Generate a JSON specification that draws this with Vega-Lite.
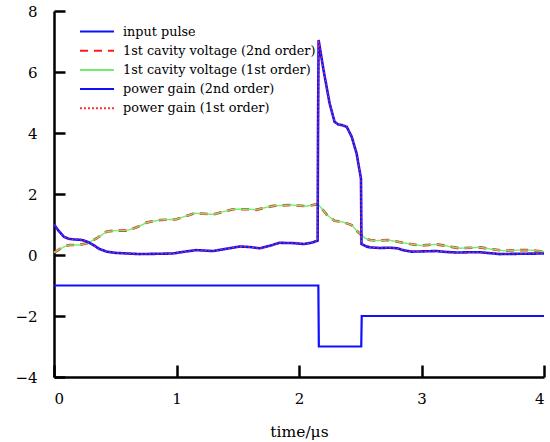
{
  "$schema": "https://vega.github.io/schema/vega-lite/v6.json",
  "width": 490,
  "height": 366,
  "autosize": "none",
  "padding": {"left": 54, "top": 11, "right": 6, "bottom": 65},
  "background": "white",
  "config": {
    "font": "DejaVu Serif",
    "view": {"stroke": null},
    "axis": {
      "grid": false,
      "labelFont": "DejaVu Serif",
      "labelFontSize": 15,
      "labelColor": "#000000",
      "titleFont": "DejaVu Serif",
      "titleFontSize": 15.5,
      "titleFontWeight": "normal",
      "titleColor": "#000000"
    },
    "legend": {
      "labelFont": "DejaVu Serif",
      "labelFontSize": 12.8,
      "labelColor": "#000000",
      "labelLimit": 400
    }
  },
  "resolve": {"axis": {"x": "independent", "y": "independent"}},
  "datasets": {
    "pulse": [
      {"t": 0, "v": -1}, {"t": 2.158, "v": -1}, {"t": 2.162, "v": -3},
      {"t": 2.508, "v": -3}, {"t": 2.512, "v": -2}, {"t": 4, "v": -2}
    ],
    "cavity": [
      {"t": 0, "v": 0.08}, {"t": 0.05, "v": 0.2}, {"t": 0.1, "v": 0.3}, {"t": 0.13, "v": 0.33},
      {"t": 0.21, "v": 0.33}, {"t": 0.28, "v": 0.4}, {"t": 0.35, "v": 0.55}, {"t": 0.43, "v": 0.77},
      {"t": 0.5, "v": 0.8}, {"t": 0.59, "v": 0.8}, {"t": 0.67, "v": 0.9}, {"t": 0.76, "v": 1.07},
      {"t": 0.87, "v": 1.15}, {"t": 1.0, "v": 1.17}, {"t": 1.07, "v": 1.27}, {"t": 1.15, "v": 1.37},
      {"t": 1.3, "v": 1.33}, {"t": 1.38, "v": 1.42}, {"t": 1.46, "v": 1.5}, {"t": 1.6, "v": 1.5},
      {"t": 1.65, "v": 1.48}, {"t": 1.72, "v": 1.55}, {"t": 1.79, "v": 1.61}, {"t": 1.93, "v": 1.64},
      {"t": 2.06, "v": 1.6}, {"t": 2.14, "v": 1.66}, {"t": 2.16, "v": 1.64}, {"t": 2.18, "v": 1.55},
      {"t": 2.23, "v": 1.31}, {"t": 2.29, "v": 1.12}, {"t": 2.36, "v": 1.08}, {"t": 2.43, "v": 0.98},
      {"t": 2.48, "v": 0.76}, {"t": 2.54, "v": 0.55}, {"t": 2.58, "v": 0.49}, {"t": 2.63, "v": 0.47},
      {"t": 2.73, "v": 0.49}, {"t": 2.85, "v": 0.4}, {"t": 2.99, "v": 0.31}, {"t": 3.12, "v": 0.35},
      {"t": 3.2, "v": 0.3}, {"t": 3.31, "v": 0.22}, {"t": 3.48, "v": 0.25}, {"t": 3.57, "v": 0.19},
      {"t": 3.67, "v": 0.14}, {"t": 3.78, "v": 0.16}, {"t": 3.89, "v": 0.16}, {"t": 4.0, "v": 0.11}
    ],
    "gain": [
      {"t": 0, "v": 1.0}, {"t": 0.04, "v": 0.78}, {"t": 0.08, "v": 0.6}, {"t": 0.12, "v": 0.53},
      {"t": 0.16, "v": 0.51}, {"t": 0.21, "v": 0.5}, {"t": 0.24, "v": 0.48}, {"t": 0.28, "v": 0.42},
      {"t": 0.32, "v": 0.33}, {"t": 0.37, "v": 0.2}, {"t": 0.43, "v": 0.11}, {"t": 0.5, "v": 0.07},
      {"t": 0.6, "v": 0.05}, {"t": 0.7, "v": 0.03}, {"t": 0.85, "v": 0.04}, {"t": 0.97, "v": 0.05},
      {"t": 1.05, "v": 0.1}, {"t": 1.16, "v": 0.16}, {"t": 1.3, "v": 0.13}, {"t": 1.4, "v": 0.2},
      {"t": 1.52, "v": 0.28}, {"t": 1.6, "v": 0.26}, {"t": 1.68, "v": 0.22}, {"t": 1.76, "v": 0.3},
      {"t": 1.84, "v": 0.4}, {"t": 1.95, "v": 0.39}, {"t": 2.04, "v": 0.36}, {"t": 2.1, "v": 0.4},
      {"t": 2.152, "v": 0.47}, {"t": 2.155, "v": 3.77}, {"t": 2.16, "v": 7.05}, {"t": 2.2, "v": 6.07},
      {"t": 2.25, "v": 4.97}, {"t": 2.29, "v": 4.37}, {"t": 2.32, "v": 4.28}, {"t": 2.35, "v": 4.26},
      {"t": 2.39, "v": 4.2}, {"t": 2.43, "v": 3.88}, {"t": 2.47, "v": 3.33}, {"t": 2.506, "v": 2.5},
      {"t": 2.51, "v": 0.36}, {"t": 2.55, "v": 0.28}, {"t": 2.58, "v": 0.25}, {"t": 2.66, "v": 0.23},
      {"t": 2.74, "v": 0.24}, {"t": 2.8, "v": 0.22}, {"t": 2.86, "v": 0.15}, {"t": 2.92, "v": 0.11},
      {"t": 3.02, "v": 0.12}, {"t": 3.12, "v": 0.13}, {"t": 3.2, "v": 0.1}, {"t": 3.29, "v": 0.08},
      {"t": 3.4, "v": 0.09}, {"t": 3.48, "v": 0.09}, {"t": 3.56, "v": 0.06}, {"t": 3.64, "v": 0.03},
      {"t": 3.8, "v": 0.04}, {"t": 4.0, "v": 0.05}
    ]
  },
  "layer": [
    {
      "data": {"name": "pulse"},
      "mark": {"type": "line", "opacity": 0},
      "encoding": {
        "x": {
          "field": "t", "type": "quantitative",
          "scale": {"domain": [0, 4], "nice": false, "zero": false},
          "axis": {"orient": "top", "offset": -366, "values": [0, 1, 2, 3, 4], "domain": false, "labels": false, "ticks": true, "tickSize": 12, "tickColor": "black", "tickWidth": 2.5, "tickOpacity": 1, "title": null}
        },
        "y": {
          "field": "v", "type": "quantitative",
          "scale": {"domain": [-4, 8], "nice": false, "zero": false},
          "axis": {"orient": "right", "offset": -490, "values": [-4, -2, 0, 2, 4, 6, 8], "domain": false, "labels": false, "ticks": true, "tickSize": 11, "tickColor": "black", "tickWidth": 2.5, "tickOpacity": 1, "title": null}
        }
      }
    },
    {
      "data": {"name": "pulse"},
      "mark": {"type": "line", "strokeWidth": 2.2},
      "encoding": {
        "x": {
          "field": "t", "type": "quantitative",
          "scale": {"domain": [0, 4], "nice": false, "zero": false},
          "axis": {"orient": "bottom", "values": [0, 1, 2, 3, 4], "format": "d", "domain": true, "domainColor": "black", "domainWidth": 2.5, "domainOpacity": 1, "ticks": false, "tickSize": 0, "labelPadding": 14, "title": "time/μs", "titlePadding": 18}
        },
        "y": {
          "field": "v", "type": "quantitative",
          "scale": {"domain": [-4, 8], "nice": false, "zero": false},
          "axis": {"orient": "left", "values": [-4, -2, 0, 2, 4, 6, 8], "domain": true, "domainColor": "black", "domainWidth": 2.5, "domainOpacity": 1, "ticks": false, "tickSize": 0, "labelPadding": 17, "title": null}
        },
        "color": {
          "datum": "input pulse",
          "scale": {
            "domain": ["input pulse", "1st cavity voltage (2nd order)", "1st cavity voltage (1st order)", "power gain (2nd order)", "power gain (1st order)"],
            "range": ["#1010ff", "#ff1a1a", "#6cf06c", "#1010ff", "#ff3030"]
          },
          "legend": {
            "title": null,
            "orient": "none",
            "legendX": 25,
            "legendY": 13,
            "symbolType": "stroke",
            "symbolSize": 1156,
            "symbolStrokeWidth": 2,
            "labelOffset": 8,
            "clipHeight": 15,
            "rowPadding": 4.2,
            "padding": 0
          }
        },
        "strokeDash": {
          "datum": "input pulse",
          "scale": {
            "domain": ["input pulse", "1st cavity voltage (2nd order)", "1st cavity voltage (1st order)", "power gain (2nd order)", "power gain (1st order)"],
            "range": [[1, 0], [8, 6], [1, 0], [1, 0], [2, 2]]
          },
          "legend": {
            "title": null,
            "orient": "none",
            "legendX": 25,
            "legendY": 13,
            "symbolType": "stroke",
            "symbolSize": 1156,
            "symbolStrokeWidth": 2,
            "labelOffset": 8,
            "clipHeight": 15,
            "rowPadding": 4.2,
            "padding": 0
          }
        }
      }
    },
    {
      "data": {"name": "cavity"},
      "mark": {"type": "line", "strokeWidth": 2.6},
      "encoding": {
        "x": {"field": "t", "type": "quantitative", "axis": null},
        "y": {"field": "v", "type": "quantitative", "axis": null},
        "color": {"datum": "1st cavity voltage (2nd order)"},
        "strokeDash": {"datum": "1st cavity voltage (2nd order)"}
      }
    },
    {
      "data": {"name": "cavity"},
      "mark": {"type": "line", "strokeWidth": 1.4},
      "encoding": {
        "x": {"field": "t", "type": "quantitative", "axis": null},
        "y": {"field": "v", "type": "quantitative", "axis": null},
        "color": {"datum": "1st cavity voltage (1st order)"},
        "strokeDash": {"datum": "1st cavity voltage (1st order)"}
      }
    },
    {
      "data": {"name": "gain"},
      "mark": {"type": "line", "strokeWidth": 2.6},
      "encoding": {
        "x": {"field": "t", "type": "quantitative", "axis": null},
        "y": {"field": "v", "type": "quantitative", "axis": null},
        "color": {"datum": "power gain (2nd order)"},
        "strokeDash": {"datum": "power gain (2nd order)"}
      }
    },
    {
      "data": {"name": "gain"},
      "mark": {"type": "line", "strokeWidth": 1},
      "encoding": {
        "x": {"field": "t", "type": "quantitative", "axis": null},
        "y": {"field": "v", "type": "quantitative", "axis": null},
        "color": {"datum": "power gain (1st order)"},
        "strokeDash": {"datum": "power gain (1st order)"}
      }
    }
  ]
}
